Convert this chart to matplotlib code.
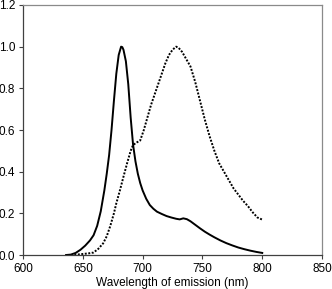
import matplotlib
matplotlib.use('Agg')
import matplotlib.pyplot as plt
import numpy as np

# emission spectra (wavelength nm, normalised intensity)
solid_nm = [636, 640, 644, 648, 652, 656, 659, 662, 665, 668, 670, 672, 674, 676, 678, 680, 682, 683,
            684, 686, 688, 690, 692, 694, 696, 698, 700, 703, 706, 709, 712, 716, 720, 724, 728,
            731, 734, 737, 740, 744, 748, 752, 756, 760, 765, 770, 775, 780, 785, 790, 795, 800]
solid_val = [0.0, 0.002, 0.01, 0.025, 0.045, 0.07, 0.095, 0.14, 0.21, 0.31, 0.39, 0.48, 0.6, 0.74,
             0.87, 0.96, 1.0, 0.998, 0.985, 0.93, 0.82, 0.66, 0.53, 0.45, 0.39, 0.345, 0.31, 0.27,
             0.24, 0.222, 0.208, 0.197, 0.187, 0.18, 0.174, 0.171, 0.176, 0.172, 0.162, 0.145,
             0.128, 0.112, 0.098, 0.085, 0.07, 0.057, 0.046, 0.036, 0.028, 0.021, 0.015, 0.01]

dot_nm = [640, 645, 650, 655, 659, 663, 667, 670, 673, 676, 678, 681, 684, 687, 690, 692, 695, 698,
          701, 704, 707, 710, 713, 716, 719, 722, 725, 728, 730, 733, 736, 740, 744, 748, 752,
          756, 760, 764, 768, 772, 776, 780, 784, 788, 792, 796, 800]
dot_val = [0.0, 0.002, 0.005, 0.008, 0.012, 0.03, 0.056, 0.09, 0.14, 0.2, 0.248, 0.31, 0.376, 0.44,
           0.5, 0.528, 0.54, 0.55, 0.6, 0.66, 0.72, 0.77, 0.82, 0.87, 0.92, 0.96, 0.985, 1.0,
           0.995, 0.975, 0.945, 0.905, 0.83, 0.74, 0.65, 0.57, 0.5, 0.44, 0.4, 0.36, 0.32,
           0.29, 0.26, 0.235, 0.205, 0.18, 0.17]

plt.rcParams['font.family'] = ['Liberation Sans', 'DejaVu Sans']

fig = plt.figure(figsize=(3.32, 2.89), dpi=100)
ax = fig.add_axes([0.0693, 0.1176, 0.9007, 0.8651])

ax.plot(solid_nm, solid_val, color='black', lw=1.4)
ax.plot(dot_nm, dot_val, color='black', lw=1.4, linestyle=(0, (1, 0.8)))

ax.set_xlim(600, 850)
ax.set_ylim(0, 1.2)
ax.set_xticks([600, 650, 700, 750, 800, 850])
ax.set_yticks(np.arange(0, 1.21, 0.2))
ax.set_yticklabels(['0.0', '0.2', '0.4', '0.6', '0.8', '1.0', '1.2'])
ax.tick_params(labelsize=8.5, length=3, width=0.8, color='#404040', pad=2.5)
ax.set_xlabel('Wavelength of emission (nm)', fontsize=8.5, labelpad=1.5)

for s in ['left', 'bottom']:
    ax.spines[s].set_color('#404040')
    ax.spines[s].set_linewidth(0.9)
for s in ['top', 'right']:
    ax.spines[s].set_color('#8a8a8a')
    ax.spines[s].set_linewidth(0.9)

fig.savefig('out.png', dpi=100)
